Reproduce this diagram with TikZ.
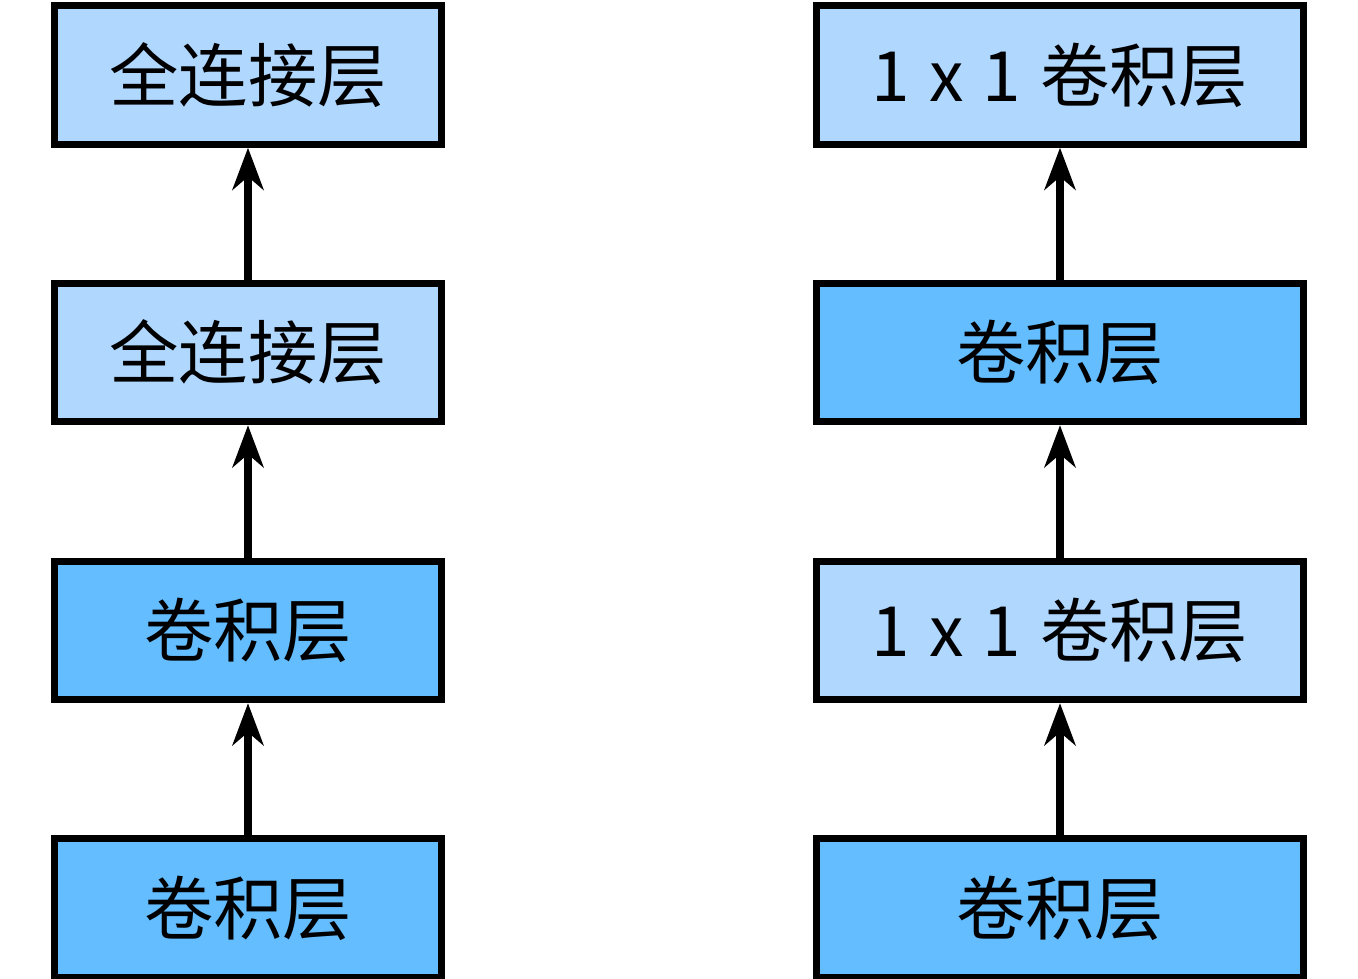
\documentclass[tikz,border=0pt]{standalone}
\usepackage{fontspec}
\setmainfont{Noto Sans CJK SC}
\usetikzlibrary{arrows.meta,positioning}

\definecolor{convblue}{HTML}{63BDFF}
\definecolor{lightblue}{HTML}{B0D8FF}

\begin{document}
\begin{tikzpicture}[
    x=0.01cm, y=-0.01cm,
    >={Stealth[length=0.42cm,width=0.31cm,inset=0.13cm]},
    convbox/.style={
      draw=black,
      line width=0.068cm,
      fill=convblue,
      align=center,
      minimum width=3.86cm,
      minimum height=1.385cm,
      inner sep=0pt,
      font=\fontsize{19.7}{22}\selectfont
    },
    lightbox/.style={
      convbox,
      fill=lightblue
    },
    widebox/.style={minimum width=4.86cm},
    flow/.style={->, line width=0.072cm, draw=black}
  ]
    \useasboundingbox (0,0) rectangle (1358,978);

    \node[lightbox] (lfc2) at (248,75) {全连接层};
    \node[lightbox] (lfc1) at (248,352.5) {全连接层};
    \node[convbox] (lconv2) at (248,630.5) {卷积层};
    \node[convbox] (lconv1) at (248,908) {卷积层};

    \node[lightbox, widebox] (rnin2) at (1060,75) {1\hspace{1pt} x\hspace{1pt} 1\hspace{1pt} 卷积层};
    \node[convbox, widebox] (rconv2) at (1060,352.5) {卷积层};
    \node[lightbox, widebox] (rnin1) at (1060,630.5) {1\hspace{1pt} x\hspace{1pt} 1\hspace{1pt} 卷积层};
    \node[convbox, widebox] (rconv1) at (1060,908) {卷积层};

    \draw[flow] (lconv1) -- (lconv2);
    \draw[flow] (lconv2) -- (lfc1);
    \draw[flow] (lfc1) -- (lfc2);

    \draw[flow] (rconv1) -- (rnin1);
    \draw[flow] (rnin1) -- (rconv2);
    \draw[flow] (rconv2) -- (rnin2);
  \end{tikzpicture}
\end{document}
